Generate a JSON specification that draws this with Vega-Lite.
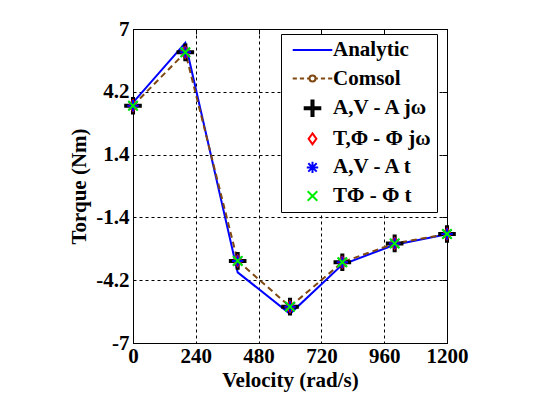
{
  "$schema": "https://vega.github.io/schema/vega-lite/v6.json",
  "autosize": {"type": "none"},
  "width": 314,
  "height": 314,
  "padding": {"left": 133, "top": 29, "right": 113, "bottom": 54},
  "background": "white",
  "config": {
    "font": "Liberation Serif",
    "view": {"stroke": "black", "strokeWidth": 1},
    "axis": {
      "labelFont": "Liberation Serif", "labelFontSize": 21, "labelFontWeight": "bold", "labelColor": "black",
      "titleFont": "Liberation Serif", "titleFontSize": 21, "titleFontWeight": "bold", "titleColor": "black",
      "domainColor": "black", "gridColor": "black", "gridDash": [3, 3], "gridWidth": 1, "gridOpacity": 1,
      "tickColor": "black"
    },
    "legend": {
      "orient": "none", "legendX": 148, "legendY": 5,
      "labelFont": "Liberation Serif", "labelFontSize": 21, "labelFontWeight": "bold", "labelColor": "black",
      "fillColor": "white", "strokeColor": "black", "padding": 5.5, "symbolOffset": 15.5,
      "symbolSize": 144, "symbolStrokeWidth": 2, "symbolOpacity": 1, "rowPadding": 6.6, "labelOffset": 10, "labelLimit": 200
    }
  },
  "data": {"values": [
    {"v": 0, "series": "Analytic", "torque": 3.72},
    {"v": 200, "series": "Analytic", "torque": 6.38},
    {"v": 400, "series": "Analytic", "torque": -3.85},
    {"v": 600, "series": "Analytic", "torque": -5.70},
    {"v": 800, "series": "Analytic", "torque": -3.50},
    {"v": 1000, "series": "Analytic", "torque": -2.62},
    {"v": 1200, "series": "Analytic", "torque": -2.15},
    {"v": 0, "series": "Comsol", "torque": 3.58},
    {"v": 200, "series": "Comsol", "torque": 5.96},
    {"v": 400, "series": "Comsol", "torque": -3.34},
    {"v": 600, "series": "Comsol", "torque": -5.38},
    {"v": 800, "series": "Comsol", "torque": -3.40},
    {"v": 1000, "series": "Comsol", "torque": -2.56},
    {"v": 1200, "series": "Comsol", "torque": -2.14},
    {"v": 0, "series": "A,V - A jω", "torque": 3.58},
    {"v": 200, "series": "A,V - A jω", "torque": 5.96},
    {"v": 400, "series": "A,V - A jω", "torque": -3.34},
    {"v": 600, "series": "A,V - A jω", "torque": -5.38},
    {"v": 800, "series": "A,V - A jω", "torque": -3.40},
    {"v": 1000, "series": "A,V - A jω", "torque": -2.56},
    {"v": 1200, "series": "A,V - A jω", "torque": -2.14},
    {"v": 0, "series": "T,Φ - Φ jω", "torque": 3.58},
    {"v": 200, "series": "T,Φ - Φ jω", "torque": 5.96},
    {"v": 400, "series": "T,Φ - Φ jω", "torque": -3.34},
    {"v": 600, "series": "T,Φ - Φ jω", "torque": -5.38},
    {"v": 800, "series": "T,Φ - Φ jω", "torque": -3.40},
    {"v": 1000, "series": "T,Φ - Φ jω", "torque": -2.56},
    {"v": 1200, "series": "T,Φ - Φ jω", "torque": -2.14},
    {"v": 0, "series": "A,V - A t", "torque": 3.58},
    {"v": 200, "series": "A,V - A t", "torque": 5.96},
    {"v": 400, "series": "A,V - A t", "torque": -3.34},
    {"v": 600, "series": "A,V - A t", "torque": -5.38},
    {"v": 800, "series": "A,V - A t", "torque": -3.40},
    {"v": 1000, "series": "A,V - A t", "torque": -2.56},
    {"v": 1200, "series": "A,V - A t", "torque": -2.14},
    {"v": 0, "series": "TΦ - Φ t", "torque": 3.58},
    {"v": 200, "series": "TΦ - Φ t", "torque": 5.96},
    {"v": 400, "series": "TΦ - Φ t", "torque": -3.34},
    {"v": 600, "series": "TΦ - Φ t", "torque": -5.38},
    {"v": 800, "series": "TΦ - Φ t", "torque": -3.40},
    {"v": 1000, "series": "TΦ - Φ t", "torque": -2.56},
    {"v": 1200, "series": "TΦ - Φ t", "torque": -2.14}
  ]},
  "resolve": {"axis": {"x": "independent", "y": "independent"}},
  "layer": [
    {
      "transform": [{"filter": "datum.series === 'Analytic'"}],
      "mark": {"type": "line", "strokeWidth": 2},
      "encoding": {
        "x": {"field": "v", "type": "quantitative", "title": "Velocity (rad/s)",
          "scale": {"domain": [0, 1200], "nice": false},
          "axis": {"orient": "bottom", "values": [0, 240, 480, 720, 960, 1200], "labelExpr": "toString(datum.value)", "grid": true, "ticks": false, "labelPadding": 2, "titlePadding": 3, "labelFlush": false}},
        "y": {"field": "torque", "type": "quantitative", "title": "Torque (Nm)",
          "scale": {"domain": [-7, 7], "nice": false, "zero": false},
          "axis": {"orient": "left", "values": [-7, -4.2, -1.4, 1.4, 4.2, 7], "labelExpr": "toString(datum.value)", "grid": true, "ticks": false, "labelPadding": 4, "titlePadding": 6, "labelFlush": false}},
        "color": {"field": "series", "type": "nominal",
          "scale": {"domain": ["Analytic", "Comsol", "A,V - A jω", "T,Φ - Φ jω", "A,V - A t", "TΦ - Φ t"],
                    "range": ["#0000ff", "#7f4810", "#000000", "#ff0000", "#0000ff", "#00ee00"]},
          "legend": {"title": null}}
      }
    },
    {
      "transform": [{"filter": "datum.series === 'Comsol'"}],
      "mark": {"type": "line", "strokeWidth": 2, "strokeDash": [6, 4]},
      "encoding": {
        "x": {"field": "v", "type": "quantitative",
          "axis": {"orient": "top", "values": [0, 240, 480, 720, 960, 1200], "labels": false, "title": null, "grid": false, "domain": false, "ticks": true, "tickSize": -5}},
        "y": {"field": "torque", "type": "quantitative",
          "axis": {"orient": "right", "values": [-7, -4.2, -1.4, 1.4, 4.2, 7], "labels": false, "title": null, "grid": false, "domain": false, "ticks": true, "tickSize": -5}},
        "color": {"field": "series", "type": "nominal"}
      }
    },
    {
      "transform": [{"filter": "datum.series === 'Comsol'"}],
      "mark": {"type": "point", "filled": false, "size": 30, "strokeWidth": 1.5, "opacity": 1},
      "encoding": {
        "x": {"field": "v", "type": "quantitative", "axis": null},
        "y": {"field": "torque", "type": "quantitative", "axis": null},
        "color": {"field": "series", "type": "nominal"}
      }
    },
    {
      "transform": [{"filter": "datum.series !== 'Analytic' && datum.series !== 'Comsol'"}],
      "mark": {"type": "point", "filled": false, "size": 144, "opacity": 1, "strokeWidth": 2},
      "encoding": {
        "x": {"field": "v", "type": "quantitative", "axis": null},
        "y": {"field": "torque", "type": "quantitative", "axis": null},
        "color": {"field": "series", "type": "nominal"},
        "shape": {"field": "series", "type": "nominal",
          "scale": {"domain": ["Analytic", "Comsol", "A,V - A jω", "T,Φ - Φ jω", "A,V - A t", "TΦ - Φ t"],
                    "range": ["M-3.3,0H3.3",
                              "M-3.3,0H-2.6M-2.1,0H-1.4M-0.9,0H-0.5M0.5,0H0.9M1.4,0H2.1M2.6,0H3.3M0.5,0A0.5,0.5 0 1,1 -0.5,0A0.5,0.5 0 1,1 0.5,0",
                              "M-1.3,-0.17H-0.17V-1.3H0.17V-0.17H1.3V0.17H0.17V1.3H-0.17V0.17H-1.3Z",
                              "M0,-0.9L0.65,0L0,0.9L-0.65,0Z",
                              "M-0.95,0H0.95M0,-0.95V0.95M-0.7,-0.7L0.7,0.7M-0.7,0.7L0.7,-0.7",
                              "M-0.8,-0.8L0.8,0.8M-0.8,0.8L0.8,-0.8"]},
          "legend": {"title": null}}
      }
    }
  ]
}
